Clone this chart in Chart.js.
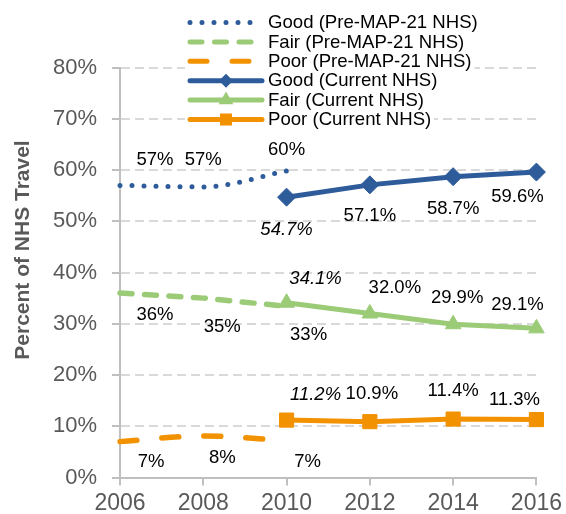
<!DOCTYPE html>
<html lang="en">
<head>
  <meta charset="UTF-8">
  <title>Percent of NHS Travel</title>
  <script src="https://cdn.jsdelivr.net/npm/chart.js@4"></script>
  <style>
    html, body { margin: 0; padding: 0; background: #fff; }
    canvas { display: block; }
  </style>
</head>
<body>
  <canvas id="nhsChart" width="566" height="514"></canvas>

  <script>
    // years
    const preYears = [2006, 2008, 2010];
    const curYears = [2010, 2012, 2014, 2016];
    const xTicks = [2006, 2008, 2010, 2012, 2014, 2016];
    const yTicks = [0, 10, 20, 30, 40, 50, 60, 70, 80];

    // pre-MAP-21 NHS (labelled as whole percents)
    const goodPre = [57.0, 56.7, 59.8];
    const fairPre = [36.0, 35.0, 33.4];
    const poorPre = [7.0, 8.1, 7.2];

    // current NHS
    const goodCur = [54.7, 57.1, 58.7, 59.6];
    const fairCur = [34.1, 32.0, 29.9, 29.1];
    const poorCur = [11.2, 10.9, 11.4, 11.3];

    const BLUE = '#2e5c9b', GREEN = '#9bcb77', ORANGE = '#f29200';
    const FONT = "'Liberation Sans', Arial, sans-serif";

    const pts = (xs, ys) => xs.map((x, i) => ({ x: x, y: ys[i] }));

    const datasets = [
      { label: 'Good (Pre-MAP-21 NHS)', data: pts(preYears, goodPre), borderColor: BLUE,
        borderWidth: 5, borderDash: [0, 12], borderCapStyle: 'round', pointRadius: 0,
        cubicInterpolationMode: 'monotone', pre: true,
        labelOffsets: [[35, -25], [0, -27], [0, -21]] },
      { label: 'Fair (Pre-MAP-21 NHS)', data: pts(preYears, fairPre), borderColor: GREEN,
        borderWidth: 5.5, borderDash: [12, 12.5], borderCapStyle: 'round', pointRadius: 0, pre: true,
        labelOffsets: [[35, 22], [19, 29], [22, 29]] },
      { label: 'Poor (Pre-MAP-21 NHS)', data: pts(preYears, poorPre), borderColor: ORANGE,
        borderWidth: 5.5, borderDash: [17, 25], borderCapStyle: 'round', pointRadius: 0,
        cubicInterpolationMode: 'monotone', pre: true,
        labelOffsets: [[31, 20], [19, 22], [21, 21]] },
      { label: 'Good (Current NHS)', data: pts(curYears, goodCur), borderColor: BLUE, backgroundColor: BLUE,
        borderWidth: 5, pointStyle: 'rectRot', pointRadius: 9, pointBorderWidth: 1,
        italicFirst: true, labelOffsets: [[0, 33], [0, 31], [0, 32], [-19, 25]] },
      { label: 'Fair (Current NHS)', data: pts(curYears, fairCur), borderColor: GREEN, backgroundColor: GREEN,
        borderWidth: 5, pointStyle: 'triangle', pointRadius: 9, pointBorderWidth: 1,
        italicFirst: true, labelOffsets: [[29, -24], [25, -26], [4, -26], [-19, -23]] },
      { label: 'Poor (Current NHS)', data: pts(curYears, poorCur), borderColor: ORANGE, backgroundColor: ORANGE,
        borderWidth: 5, pointStyle: 'rect', pointRadius: 10, pointBorderWidth: 1,
        italicFirst: true, labelOffsets: [[29, -25], [2, -28], [0, -28], [-22, -20]] }
    ];
    datasets.forEach(d => { d.fill = false; d.clip = false; });

    function marker(ctx, style, x, y, r) {
      ctx.beginPath();
      if (style === 'rectRot') {
        ctx.moveTo(x - r, y); ctx.lineTo(x, y - r); ctx.lineTo(x + r, y); ctx.lineTo(x, y + r);
      } else if (style === 'triangle') {
        ctx.moveTo(x, y - r); ctx.lineTo(x + 0.866 * r, y + 0.5 * r); ctx.lineTo(x - 0.866 * r, y + 0.5 * r);
      } else {
        const s = r * Math.SQRT1_2;
        ctx.rect(x - s, y - s, 2 * s, 2 * s);
      }
      ctx.closePath();
      ctx.fill();
    }

    // value labels next to points
    const pointLabels = {
      id: 'pointLabels',
      afterDatasetsDraw(chart) {
        const ctx = chart.ctx;
        ctx.save();
        ctx.textAlign = 'center';
        ctx.textBaseline = 'middle';
        ctx.fillStyle = '#000';
        chart.data.datasets.forEach((ds, i) => {
          chart.getDatasetMeta(i).data.forEach((pt, j) => {
            const off = ds.labelOffsets[j];
            const v = ds.data[j].y;
            const txt = ds.pre ? Math.round(v) + '%' : v.toFixed(1) + '%';
            ctx.font = (ds.italicFirst && j === 0 ? 'italic ' : '') + '18.5px ' + FONT;
            ctx.fillText(txt, pt.x + off[0], pt.y + off[1]);
          });
        });
        ctx.restore();
      }
    };

    // legend over the top of the plot + y axis title
    const overlay = {
      id: 'overlay',
      afterDraw(chart) {
        const ctx = chart.ctx;
        ctx.save();
        ctx.font = '18.6px ' + FONT;
        ctx.textBaseline = 'middle';
        chart.data.datasets.forEach((ds, i) => {
          const y = 22.5 + i * 19.4;
          const w = ctx.measureText(ds.label).width;
          ctx.fillStyle = '#fff';
          ctx.fillRect(185, y - 9.7, 268 + w + 3 - 185, 19.4);

          ctx.beginPath();
          ctx.strokeStyle = ds.borderColor;
          ctx.lineWidth = 5;
          ctx.lineCap = 'round';
          ctx.setLineDash(ds.borderDash || []);
          ctx.moveTo(190, y);
          ctx.lineTo(262, y);
          ctx.stroke();
          ctx.setLineDash([]);
          if (ds.pointStyle) {
            ctx.fillStyle = ds.borderColor;
            marker(ctx, ds.pointStyle, 226, y, ds.pointStyle === 'rectRot' ? 7 : 8.5);
          }
          ctx.fillStyle = '#000';
          ctx.textAlign = 'left';
          ctx.fillText(ds.label, 268, y + 0.5);
        });

        ctx.translate(23, 250);
        ctx.rotate(-Math.PI / 2);
        ctx.textAlign = 'center';
        ctx.fillStyle = '#595959';
        ctx.font = 'bold 21px ' + FONT;
        ctx.fillText('Percent of NHS Travel', 0, 0);
        ctx.restore();
      }
    };

    new Chart(document.getElementById('nhsChart').getContext('2d'), {
      type: 'line',
      data: { datasets },
      plugins: [pointLabels, overlay],
      options: {
        responsive: false,
        animation: false,
        layout: { padding: { top: 67.5, right: 29, left: 0, bottom: 0 } },
        plugins: { legend: { display: false }, tooltip: { enabled: false } },
        scales: {
          x: {
            type: 'linear', min: 2006, max: 2016,
            afterBuildTicks: s => { s.ticks = xTicks.map(v => ({ value: v })); },
            afterFit: s => { s.height = 36.5; },
            ticks: { font: { size: 23, family: FONT }, color: '#595959', padding: 4,
                     maxRotation: 0, autoSkip: false, callback: v => String(v) },
            grid: { drawOnChartArea: false, tickLength: 8, tickColor: '#bfbfbf', tickWidth: 2,
                    color: '#bfbfbf', lineWidth: 2 },
            border: { color: '#bfbfbf', width: 2 }
          },
          y: {
            min: 0, max: 80,
            afterBuildTicks: s => { s.ticks = yTicks.map(v => ({ value: v })); },
            afterFit: s => { s.width = 120; },
            ticks: { font: { size: 22, family: FONT }, color: '#595959', padding: 15,
                     callback: v => v + '%' },
            grid: { color: c => (c.tick && c.tick.value === 0) ? 'rgba(0,0,0,0)' : '#d9d9d9',
                    lineWidth: 2, tickLength: 8, tickColor: '#bfbfbf', tickWidth: 2, tickBorderDash: [] },
            border: { color: '#bfbfbf', width: 2, dash: [9, 5] }
          }
        }
      }
    });
  </script>
</body>
</html>
